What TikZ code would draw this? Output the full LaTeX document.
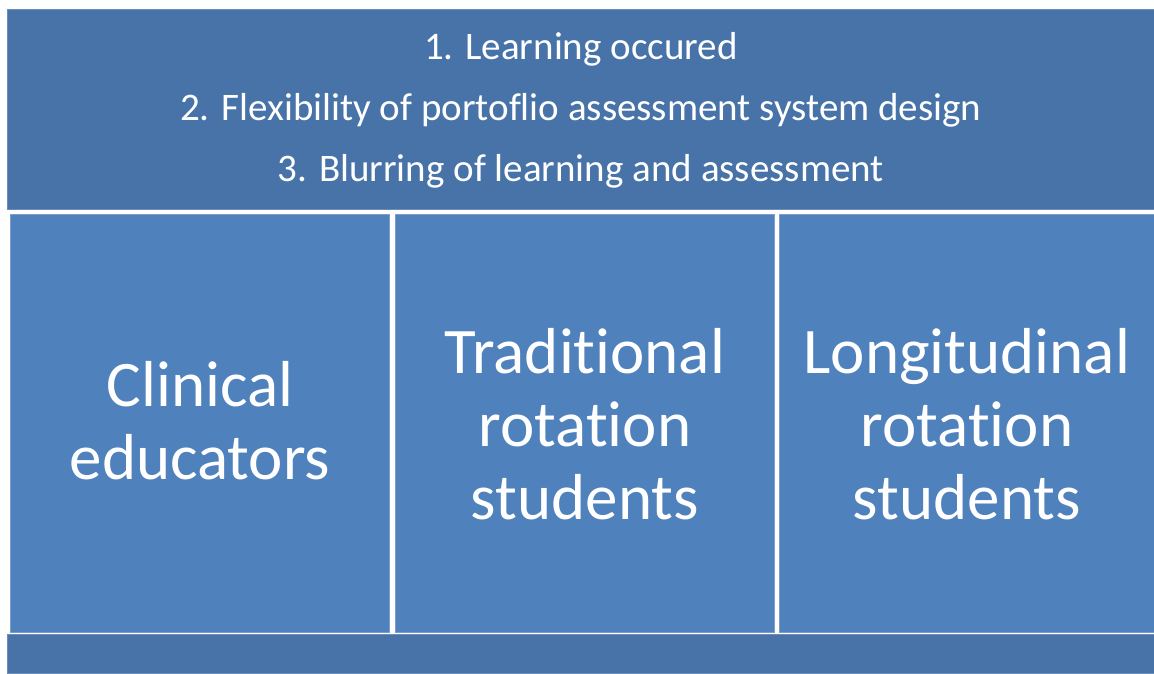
\documentclass[tikz,border=0pt]{standalone}
\usepackage{fontspec}
\setmainfont{Carlito}[Ligatures=NoCommon]
\usetikzlibrary{positioning}

\definecolor{banddark}{HTML}{4773A9}
\definecolor{celllight}{HTML}{4F81BD}
\definecolor{celledge}{HTML}{7A9DCB}

\begin{document}
\begin{tikzpicture}[x=1bp,y=1bp,
  band/.style={fill=banddark,draw=banddark!80!white,line width=0.8bp,inner sep=0pt,anchor=south west},
  cell/.style={fill=celllight,draw=celledge,line width=0.8bp,inner sep=0pt,anchor=south west,
    minimum width=379bp,minimum height=418bp},
  bigtext/.style={text=white,align=center,font=\fontsize{65bp}{73bp}\selectfont},
  smalltext/.style={text=white,align=center,font=\fontsize{39bp}{61bp}\selectfont}]
\useasboundingbox (0,0) rectangle (1154,674);
% top band with the three findings
\node[band,minimum width=1147bp,minimum height=200bp] (top) at (7,464) {};
\node[smalltext] (findings) at ([yshift=-1bp]top.center)
  {1. Learning occured\\2. Flexibility of portoflio assessment system design\\3. Blurring of learning and assessment};
% the three groups
\node[cell] (edu) at (10,41) {};
\node[cell,minimum width=379bp] (trad) at (395,41) {};
\node[cell,minimum width=375bp] (long) at (779,41) {};
\node[bigtext] at ([yshift=3bp]edu.center) {Clinical\\educators};
\node[bigtext] at ([yshift=-1bp]trad.center) {Traditional\\rotation\\students};
\node[bigtext] at ([yshift=-1bp]long.center) {Longitudinal\\rotation\\students};
% bottom band
\node[band,minimum width=1147bp,minimum height=39bp] (bottom) at (7,0) {};
\end{tikzpicture}
\end{document}
